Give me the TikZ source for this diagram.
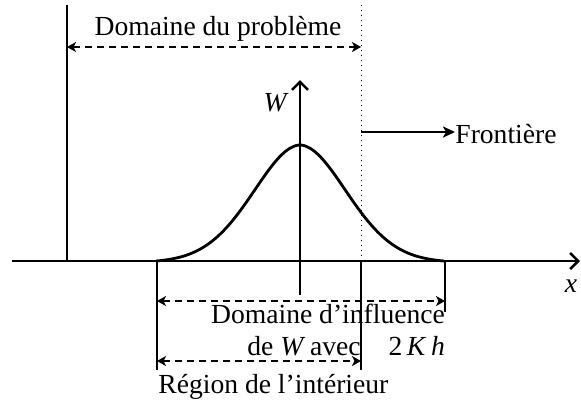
\documentclass[tikz,border=0pt]{standalone}
\usepackage{fontspec}
\setmainfont{Liberation Serif}
\usetikzlibrary{arrows.meta}
\begin{document}
\begin{tikzpicture}[x=0.5pt,y=-0.5pt,
  ln/.style={line width=1.4pt},
  tip/.style={-{Straight Barb[length=4pt,width=8pt,line width=1.3pt]}},
  ftip/.style={-{Stealth[length=6pt,width=5.5pt,inset=1.5pt]}},
  dtip/.style={{Stealth[length=4.5pt,width=5pt,inset=1.2pt]}-{Stealth[length=4.5pt,width=5pt,inset=1.2pt]}},
  dsh/.style={line width=1.4pt,dash pattern=on 3.5pt off 2.5pt},
  lbl/.style={inner sep=0pt,font=\fontsize{13.8}{16}\selectfont}]
\useasboundingbox (0,0) rectangle (581,404);
% coordinates
\coordinate (axL) at (12,261);
\coordinate (axR) at (580,261);
\coordinate (wB) at (300,295);
\coordinate (wT) at (300,80);
\coordinate (lT) at (67,5);
\coordinate (lB) at (67,261);
\coordinate (fT) at (361,5);
\coordinate (fM) at (361,261);
\coordinate (fB) at (361,370);
\coordinate (aB) at (157,261);
\coordinate (aD) at (157,370);
\coordinate (bB) at (445,261);
\coordinate (bD) at (445,312);
\coordinate (p1L) at (67,47);
\coordinate (p1R) at (361,47);
\coordinate (fr1) at (361,132);
\coordinate (fr2) at (455,132);
\coordinate (i1L) at (157,301);
\coordinate (i1R) at (445,301);
\coordinate (r1L) at (157,361);
\coordinate (r1R) at (361,361);
% axes
\draw[ln,tip] (axL) -- (axR);
\draw[ln,tip] (wB) -- (wT);
% vertical lines
\draw[ln] (lT) -- (lB);
\draw[line width=0.5pt,dotted] (fT) -- (fM);
\draw[ln] (fM) -- (fB);
\draw[ln] (aB) -- (aD);
\draw[ln] (bB) -- (bD);
% bell curve
\draw[ln,smooth] plot[domain=-144:144,samples=120] ({\x+300},{261-117.5*(exp(-((abs(\x)/66.4)^1.9))-0.0129)});
% dashed arrows
\draw[dsh,dtip] (p1L) -- (p1R);
\draw[dsh,dtip] (i1L) -- (i1R);
\draw[dsh,dtip] (r1L) -- (r1R);
\draw[ln,ftip] (fr1) -- (fr2);
% labels
\node[lbl,anchor=base] (tprob) at (218,35) {Domaine du problème};
\node[lbl,anchor=base east] (tW) at (289,111) {\textit{W}};
\node[lbl,anchor=base west] (tfr) at (455,143) {Frontière};
\node[lbl,anchor=base] (tx) at (571,292) {\textit{x}};
\node[lbl,anchor=base] (tinf) at (328,323) {Domaine d’influence};
\node[lbl,anchor=base west] (tavec) at (247,355) {de \textit{W}\,avec\hspace{14pt}2\,\textit{K}\,\textit{h}};
\node[lbl,anchor=base west] (treg) at (158,393) {Région de l’intérieur};
\end{tikzpicture}
\end{document}
